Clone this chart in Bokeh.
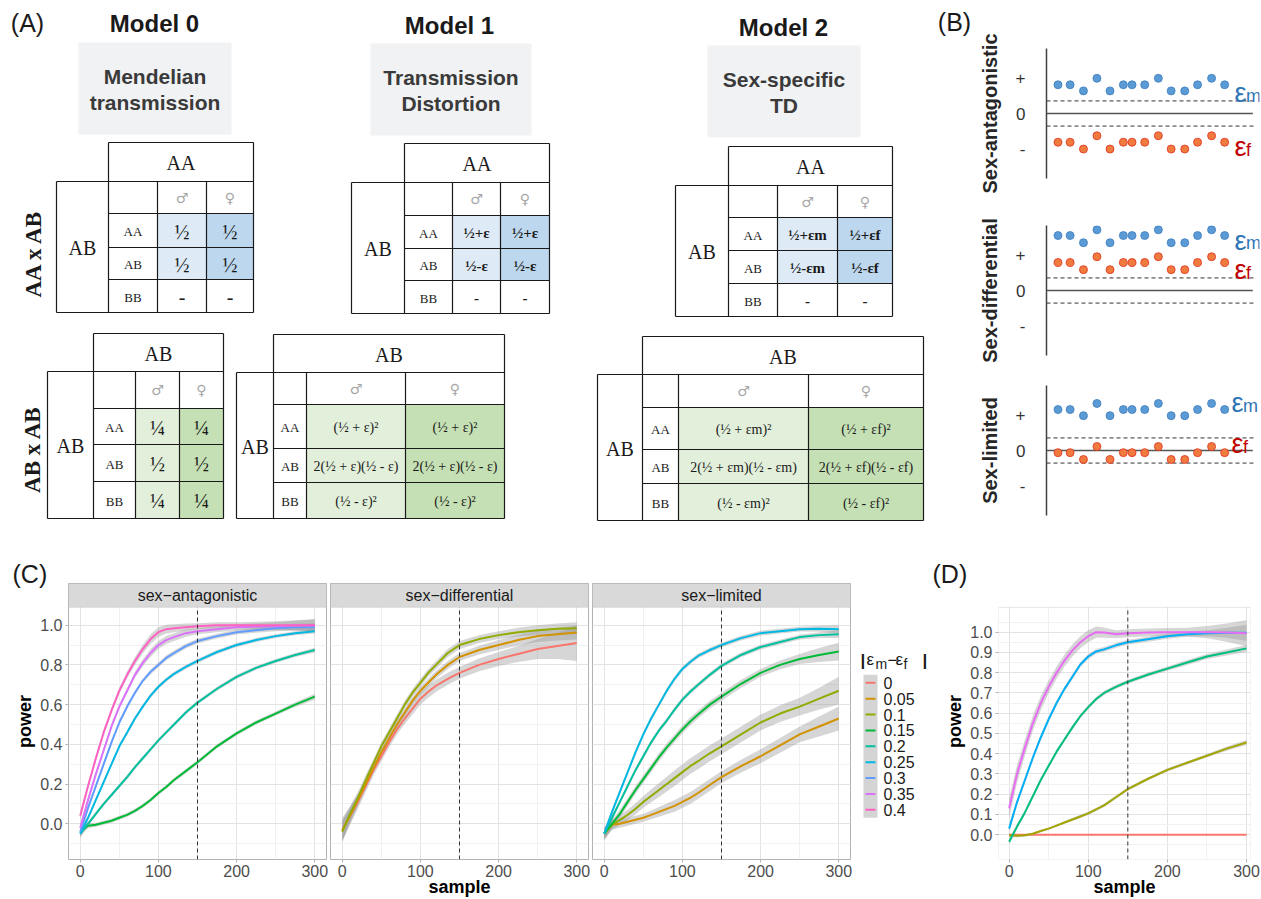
import math
from bokeh.plotting import figure
from bokeh.models import Range1d, FixedTicker, PrintfTickFormatter, BoxAnnotation, Label, Title
from bokeh.layouts import row, column
from bokeh.embed import file_html
from bokeh.resources import INLINE
from bokeh.core.properties import value

SANS = "Liberation Sans"
SERIF = "Liberation Serif"

# ------------------------------------------------------------------ data (C, D)
sample = [0, 10, 20, 30, 40, 50, 60, 70, 80, 90, 100, 110, 120, 135, 150, 175, 200, 225, 250, 275, 300]
threshold = 150
diff_levels = ["0", "0.05", "0.1", "0.15", "0.2", "0.25", "0.3", "0.35", "0.4"]
level_colors = ["#F8766D", "#D39200", "#93AA00", "#00BA38", "#00C19F",
                "#00B9E3", "#619CFF", "#DB72FB", "#FF61C3"]
facet_titles = ["sex\u2212antagonistic", "sex\u2212differential", "sex\u2212limited"]

antag_levels = ["0.15", "0.2", "0.25", "0.3", "0.35", "0.4"]
antag_power = [
    [-0.04, -0.01, -0.005, 0.005, 0.015, 0.03, 0.045, 0.065, 0.09, 0.12, 0.155, 0.185, 0.22, 0.265, 0.31, 0.39, 0.455, 0.51, 0.555, 0.6, 0.64],
    [-0.05, 0.0, 0.05, 0.1, 0.145, 0.19, 0.235, 0.285, 0.33, 0.375, 0.42, 0.46, 0.5, 0.56, 0.61, 0.68, 0.74, 0.785, 0.82, 0.85, 0.875],
    [-0.05, 0.03, 0.12, 0.21, 0.3, 0.39, 0.46, 0.53, 0.59, 0.645, 0.69, 0.725, 0.755, 0.79, 0.82, 0.865, 0.9, 0.925, 0.945, 0.96, 0.97],
    [-0.04, 0.08, 0.19, 0.3, 0.41, 0.51, 0.59, 0.66, 0.72, 0.765, 0.8, 0.835, 0.86, 0.895, 0.92, 0.945, 0.965, 0.975, 0.985, 0.99, 0.99],
    [-0.02, 0.12, 0.25, 0.37, 0.49, 0.59, 0.67, 0.75, 0.81, 0.86, 0.9, 0.925, 0.94, 0.96, 0.97, 0.98, 0.99, 0.993, 0.995, 0.998, 1.0],
    [0.04, 0.19, 0.33, 0.46, 0.57, 0.67, 0.75, 0.82, 0.88, 0.93, 0.965, 0.98, 0.985, 0.99, 0.995, 1.0, 1.0, 1.0, 1.0, 1.0, 1.0],
]
antag_se = [
    [0.02, 0.012, 0.01, 0.01, 0.01, 0.01, 0.01, 0.01, 0.01, 0.01, 0.01, 0.01, 0.01, 0.01, 0.01, 0.01, 0.01, 0.01, 0.01, 0.012, 0.015],
    [0.02, 0.012, 0.01, 0.01, 0.01, 0.01, 0.01, 0.01, 0.01, 0.01, 0.01, 0.01, 0.01, 0.01, 0.01, 0.01, 0.01, 0.01, 0.01, 0.01, 0.012],
    [0.02, 0.012, 0.01, 0.01, 0.01, 0.01, 0.01, 0.01, 0.01, 0.01, 0.01, 0.01, 0.01, 0.01, 0.01, 0.01, 0.01, 0.01, 0.01, 0.01, 0.012],
    [0.02, 0.015, 0.012, 0.012, 0.01, 0.01, 0.01, 0.01, 0.01, 0.012, 0.012, 0.012, 0.012, 0.012, 0.012, 0.012, 0.012, 0.013, 0.015, 0.017, 0.02],
    [0.02, 0.015, 0.012, 0.012, 0.012, 0.012, 0.013, 0.015, 0.017, 0.02, 0.02, 0.02, 0.02, 0.018, 0.015, 0.015, 0.015, 0.017, 0.02, 0.025, 0.03],
    [0.02, 0.015, 0.015, 0.015, 0.015, 0.015, 0.017, 0.02, 0.022, 0.025, 0.025, 0.022, 0.02, 0.018, 0.015, 0.015, 0.015, 0.017, 0.02, 0.025, 0.03],
]

sd_levels = ["0", "0.05", "0.1"]
sd_power = [
    [-0.03, 0.04, 0.11, 0.19, 0.27, 0.34, 0.41, 0.475, 0.53, 0.58, 0.63, 0.665, 0.695, 0.73, 0.76, 0.8, 0.83, 0.855, 0.88, 0.895, 0.91],
    [-0.035, 0.04, 0.12, 0.2, 0.28, 0.36, 0.43, 0.5, 0.56, 0.62, 0.67, 0.71, 0.75, 0.8, 0.84, 0.875, 0.9, 0.925, 0.945, 0.955, 0.963],
    [-0.04, 0.05, 0.13, 0.22, 0.305, 0.39, 0.46, 0.53, 0.6, 0.66, 0.71, 0.76, 0.8, 0.86, 0.9, 0.93, 0.95, 0.965, 0.975, 0.982, 0.985],
]
sd_se = [
    [0.06, 0.045, 0.035, 0.03, 0.027, 0.025, 0.025, 0.025, 0.027, 0.03, 0.03, 0.03, 0.03, 0.03, 0.03, 0.032, 0.035, 0.04, 0.05, 0.065, 0.09],
    [0.05, 0.04, 0.03, 0.025, 0.02, 0.02, 0.02, 0.02, 0.02, 0.02, 0.02, 0.02, 0.02, 0.02, 0.02, 0.022, 0.025, 0.027, 0.03, 0.032, 0.035],
    [0.05, 0.04, 0.03, 0.025, 0.02, 0.02, 0.02, 0.02, 0.02, 0.02, 0.02, 0.02, 0.02, 0.02, 0.02, 0.02, 0.02, 0.022, 0.025, 0.027, 0.03],
]

lim_levels = ["0.05", "0.1", "0.15", "0.2", "0.25"]
lim_power = [
    [-0.05, -0.005, 0.0, 0.01, 0.02, 0.03, 0.045, 0.06, 0.075, 0.09, 0.11, 0.13, 0.155, 0.195, 0.235, 0.29, 0.34, 0.395, 0.45, 0.49, 0.53],
    [-0.05, -0.005, 0.02, 0.045, 0.075, 0.11, 0.14, 0.17, 0.2, 0.23, 0.26, 0.29, 0.315, 0.355, 0.39, 0.45, 0.51, 0.555, 0.59, 0.63, 0.67],
    [-0.05, 0.0, 0.05, 0.11, 0.17, 0.225, 0.28, 0.335, 0.385, 0.43, 0.475, 0.515, 0.55, 0.6, 0.64, 0.705, 0.76, 0.8, 0.83, 0.85, 0.867],
    [-0.05, 0.03, 0.11, 0.19, 0.27, 0.34, 0.41, 0.47, 0.52, 0.575, 0.625, 0.665, 0.7, 0.75, 0.795, 0.85, 0.89, 0.915, 0.94, 0.95, 0.955],
    [-0.05, 0.06, 0.16, 0.26, 0.36, 0.45, 0.53, 0.6, 0.67, 0.73, 0.78, 0.815, 0.845, 0.875, 0.9, 0.935, 0.96, 0.97, 0.98, 0.982, 0.98],
]
lim_se = [
    [0.03, 0.025, 0.02, 0.02, 0.02, 0.02, 0.022, 0.025, 0.027, 0.03, 0.03, 0.03, 0.03, 0.03, 0.03, 0.032, 0.035, 0.037, 0.04, 0.05, 0.06],
    [0.03, 0.025, 0.025, 0.025, 0.028, 0.03, 0.032, 0.035, 0.037, 0.04, 0.04, 0.04, 0.04, 0.04, 0.04, 0.04, 0.04, 0.042, 0.045, 0.055, 0.07],
    [0.03, 0.02, 0.02, 0.02, 0.02, 0.02, 0.02, 0.02, 0.02, 0.02, 0.02, 0.02, 0.02, 0.02, 0.02, 0.02, 0.02, 0.022, 0.025, 0.035, 0.045],
    [0.02, 0.015, 0.012, 0.012, 0.012, 0.012, 0.012, 0.012, 0.012, 0.012, 0.012, 0.012, 0.012, 0.012, 0.012, 0.012, 0.012, 0.012, 0.012, 0.015, 0.02],
    [0.02, 0.015, 0.012, 0.012, 0.012, 0.012, 0.012, 0.012, 0.012, 0.012, 0.012, 0.012, 0.012, 0.012, 0.012, 0.012, 0.012, 0.012, 0.012, 0.015, 0.02],
]

d_colors = ["#F8766D", "#A3A500", "#00BF7D", "#00B0F6", "#E76BF3"]
d_power = [
    [0, 0, 0, 0, 0, 0, 0, 0, 0, 0, 0, 0, 0, 0, 0, 0, 0, 0, 0, 0, 0],
    [-0.003, -0.005, -0.003, 0.005, 0.018, 0.03, 0.045, 0.06, 0.075, 0.09, 0.105, 0.125, 0.145, 0.185, 0.225, 0.275, 0.32, 0.355, 0.39, 0.425, 0.455],
    [-0.035, 0.04, 0.11, 0.19, 0.27, 0.34, 0.41, 0.47, 0.53, 0.585, 0.63, 0.67, 0.7, 0.73, 0.755, 0.79, 0.82, 0.85, 0.88, 0.9, 0.92],
    [0.03, 0.16, 0.27, 0.38, 0.48, 0.57, 0.65, 0.72, 0.78, 0.84, 0.88, 0.905, 0.915, 0.935, 0.95, 0.965, 0.98, 0.99, 0.995, 0.997, 0.997],
    [0.13, 0.3, 0.43, 0.55, 0.65, 0.73, 0.8, 0.86, 0.91, 0.95, 0.98, 1.0, 0.998, 0.99, 0.995, 0.998, 1.0, 1.0, 1.0, 0.998, 0.995],
]
d_se = [
    [0, 0, 0, 0, 0, 0, 0, 0, 0, 0, 0, 0, 0, 0, 0, 0, 0, 0, 0, 0, 0],
    [0.01, 0.008, 0.007, 0.006, 0.006, 0.006, 0.006, 0.006, 0.007, 0.008, 0.008, 0.008, 0.008, 0.008, 0.008, 0.008, 0.008, 0.008, 0.008, 0.01, 0.012],
    [0.015, 0.012, 0.01, 0.01, 0.01, 0.01, 0.01, 0.01, 0.01, 0.01, 0.01, 0.01, 0.01, 0.01, 0.01, 0.01, 0.01, 0.012, 0.012, 0.015, 0.018],
    [0.02, 0.017, 0.015, 0.013, 0.012, 0.012, 0.012, 0.012, 0.012, 0.012, 0.012, 0.012, 0.012, 0.012, 0.012, 0.012, 0.012, 0.013, 0.015, 0.025, 0.04],
    [0.05, 0.045, 0.04, 0.037, 0.035, 0.032, 0.03, 0.03, 0.03, 0.03, 0.03, 0.028, 0.025, 0.02, 0.02, 0.02, 0.02, 0.022, 0.03, 0.045, 0.065],
]

# ------------------------------------------------------------------ data (B)
b_modes = ["Sex-antagonistic", "Sex-differential", "Sex-limited"]
b_x = [1, 1.91, 2.91, 3.92, 4.90, 5.90, 6.55, 7.50, 8.52, 9.48, 10.50, 11.46, 12.51, 13.49]
b_male = [
    [0.80, 0.80, 0.63, 0.98, 0.63, 0.80, 0.80, 0.80, 0.98, 0.63, 0.63, 0.80, 0.98, 0.80],
    [1.53, 1.53, 1.33, 1.69, 1.33, 1.53, 1.53, 1.53, 1.69, 1.33, 1.33, 1.53, 1.69, 1.53],
    [1.14, 1.14, 0.97, 1.31, 0.97, 1.14, 1.14, 1.14, 1.31, 0.97, 0.97, 1.14, 1.31, 1.14],
]
b_female = [
    [-0.80, -0.80, -0.99, -0.62, -0.99, -0.80, -0.80, -0.80, -0.62, -0.99, -0.99, -0.80, -0.62, -0.80],
    [0.78, 0.78, 0.58, 0.94, 0.58, 0.78, 0.78, 0.78, 0.94, 0.58, 0.58, 0.78, 0.94, 0.78],
    [-0.06, -0.06, -0.25, 0.11, -0.25, -0.06, -0.06, -0.06, 0.11, -0.25, -0.25, -0.06, 0.11, -0.06],
]
b_tick_labels = {1: "+", 0: "0", -1: "-"}
b_band = 0.35
# epsilon label anchors (x, baseline) for male / female in each sub-panel
b_lab_m = [(14.22, 0.58), (14.22, 1.39), (14.0, 1.31)]
b_lab_f = [(14.22, -0.94), (14.22, 0.56), (14.0, 0.19)]

# ------------------------------------------------------------------ content (A)
model_titles = ["Model 0", "Model 1", "Model 2"]
model_names = [["Mendelian", "transmission"], ["Transmission", "Distortion"], ["Sex-specific", "TD"]]
cross_labels = ["AA x AB", "AB x AB"]
sexes = ["\u2642", "\u2640"]
genotypes = ["AA", "AB", "BB"]
top_cells = [
    [["\u00bd", "\u00bd"], ["\u00bd", "\u00bd"], ["-", "-"]],
    [["\u00bd+\u03b5", "\u00bd+\u03b5"], ["\u00bd-\u03b5", "\u00bd-\u03b5"], ["-", "-"]],
    [["\u00bd+\u03b5m", "\u00bd+\u03b5f"], ["\u00bd-\u03b5m", "\u00bd-\u03b5f"], ["-", "-"]],
]
bot_cells = [
    [["\u00bc", "\u00bc"], ["\u00bd", "\u00bd"], ["\u00bc", "\u00bc"]],
    [["(\u00bd + \u03b5)\u00b2", "(\u00bd + \u03b5)\u00b2"],
     ["2(\u00bd + \u03b5)(\u00bd - \u03b5)", "2(\u00bd + \u03b5)(\u00bd - \u03b5)"],
     ["(\u00bd - \u03b5)\u00b2", "(\u00bd - \u03b5)\u00b2"]],
    [["(\u00bd + \u03b5m)\u00b2", "(\u00bd + \u03b5f)\u00b2"],
     ["2(\u00bd + \u03b5m)(\u00bd - \u03b5m)", "2(\u00bd + \u03b5f)(\u00bd - \u03b5f)"],
     ["(\u00bd - \u03b5m)\u00b2", "(\u00bd - \u03b5f)\u00b2"]],
]

# ------------------------------------------------------------------ panel A (pixel canvas)
pA = figure(width=975, height=530, x_range=Range1d(0, 975), y_range=Range1d(530, 0),
            x_axis_location=None, y_axis_location=None, title=None, min_border=0,
            output_backend="svg", toolbar_location=None)
pA.grid.visible = False
pA.outline_line_color = None

pA.text(x=[27, 954], y=[22, 21], text=["(A)", "(B)"], text_font=value(SANS), text_font_size="25px",
        text_align="center", text_baseline="middle", text_color="#1a1a1a")

title_pos = [(154, 23), (449, 25), (783, 27)]
box_pos = [(78, 231, 42, 134), (370, 531, 43, 135), (707, 860, 45, 137)]
for k in range(3):
    l, r, t, b = box_pos[k]
    pA.quad(left=l, right=r, top=t, bottom=b, fill_color="#f1f2f4", line_color=None)
    pA.text(x=[title_pos[k][0]], y=[title_pos[k][1]], text=[model_titles[k]], text_font=value(SANS),
            text_font_size="24px", text_font_style="bold", text_align="center",
            text_baseline="middle", text_color="#1a1a1a")
    cx = (l + r) / 2
    pA.text(x=[cx, cx], y=[t + 34, t + 60], text=model_names[k], text_font=value(SANS),
            text_font_size="21px", text_font_style="bold", text_align="center",
            text_baseline="middle", text_color="#3a3a3a")

pA.text(x=[33, 32], y=[253, 449], text=cross_labels, angle=math.pi / 2, text_font=value(SERIF),
        text_font_size="23px", text_font_style="bold", text_align="center",
        text_baseline="middle", text_color="#1a1a1a")

table_geom = [
    ([56, 108, 157, 206, 253], [142, 181, 213, 247, 279, 312]),
    ([351, 404, 452, 500, 549], [143, 182, 215, 248, 280, 313]),
    ([675, 728, 777, 837, 892], [146, 185, 217, 250, 283, 316]),
    ([47, 93, 135, 179, 223], [333, 371, 408, 444, 481, 518]),
    ([236, 273, 306, 405, 504], [334, 372, 404, 448, 482, 518]),
    ([597, 642, 678, 808, 923], [336, 374, 407, 449, 483, 520]),
]
blue_fill = ["#deebf7", "#bdd7ee"]
green_fill = ["#e2efda", "#c5e0b4"]


def draw_table(cols, rows, header, cells, fills, nfill, csize, cstyle):
    xa, xb, xc, xd, xe = cols
    ya, yb, yc, yd, ye, yf = rows
    r1 = rows[2 + nfill]
    pA.quad(left=[xc, xd], right=[xd, xe], top=[yc, yc], bottom=[r1, r1],
            fill_color=fills, line_color=None)
    x0 = [xb, xb, xe, xa, xa, xa, xc, xd, xb, xb, xb]
    y0 = [ya, ya, ya, yb, yb, yf, yb, yb, yc, yd, ye]
    x1 = [xe, xb, xe, xe, xa, xe, xc, xd, xe, xe, xe]
    y1 = [ya, yf, yf, yb, yf, yf, yf, yf, yc, yd, ye]
    pA.segment(x0=x0, y0=y0, x1=x1, y1=y1, line_color="#1a1a1a", line_width=1.2)
    pA.text(x=[(xb + xe) / 2], y=[(ya + yb) / 2 + 1], text=[header], text_font=value(SERIF),
            text_font_size="20px", text_align="center", text_baseline="middle", text_color="#1a1a1a")
    pA.text(x=[(xa + xb) / 2], y=[(yb + yf) / 2 + 1], text=["AB"], text_font=value(SERIF),
            text_font_size="20px", text_align="center", text_baseline="middle", text_color="#1a1a1a")
    pA.text(x=[(xc + xd) / 2, (xd + xe) / 2], y=[(yb + yc) / 2] * 2, text=sexes,
            text_font=value("DejaVu Sans"), text_font_size="14px", text_align="center",
            text_baseline="middle", text_color="#a6a6a6")
    mids = [(yc + yd) / 2, (yd + ye) / 2, (ye + yf) / 2]
    pA.text(x=[(xb + xc) / 2] * 3, y=[m + 1 for m in mids], text=genotypes, text_font=value(SERIF),
            text_font_size="13px", text_align="center", text_baseline="middle", text_color="#1a1a1a")
    cxs, cys, ctx = [], [], []
    for i in range(3):
        for j in range(2):
            cxs.append([(xc + xd) / 2, (xd + xe) / 2][j])
            cys.append(mids[i] + 1)
            ctx.append(cells[i][j])
    pA.text(x=cxs, y=cys, text=ctx, text_font=value(SERIF), text_font_size=csize,
            text_font_style=cstyle, text_align="center", text_baseline="middle", text_color="#1a1a1a")


draw_table(*table_geom[0], "AA", top_cells[0], blue_fill, 2, "20px", "normal")
draw_table(*table_geom[1], "AA", top_cells[1], blue_fill, 2, "15px", "bold")
draw_table(*table_geom[2], "AA", top_cells[2], blue_fill, 2, "15px", "bold")
draw_table(*table_geom[3], "AB", bot_cells[0], green_fill, 3, "20px", "normal")
draw_table(*table_geom[4], "AB", bot_cells[1], green_fill, 3, "14px", "normal")
draw_table(*table_geom[5], "AB", bot_cells[2], green_fill, 3, "14px", "normal")

# ------------------------------------------------------------------ panel B
def make_b(i, height, top, bottom):
    p = figure(width=286, height=height, x_range=Range1d(0.14, 16.1), y_range=Range1d(-1.81, 1.81),
               min_border_left=61, min_border_right=2, min_border_top=top, min_border_bottom=bottom,
               x_axis_location=None, y_axis_location="left", title=None,
               output_backend="svg", toolbar_location=None)
    p.grid.visible = False
    p.outline_line_color = None
    ax = p.yaxis[0]
    ax.ticker = FixedTicker(ticks=[-1, 0, 1])
    ax.major_label_overrides = b_tick_labels
    ax.major_tick_line_color = None
    ax.minor_tick_line_color = None
    ax.axis_line_color = "#404040"
    ax.axis_line_width = 1.5
    ax.major_label_standoff = 15
    ax.major_label_text_font = SANS
    ax.major_label_text_font_size = "17px"
    ax.major_label_text_color = "#333333"
    ax.axis_label = b_modes[i]
    ax.axis_label_text_font = SANS
    ax.axis_label_text_font_size = "20px"
    ax.axis_label_text_font_style = "bold"
    ax.axis_label_text_color = "#262626"
    ax.axis_label_standoff = 12
    p.segment(x0=[0.14, 0.14, 0.14], x1=[15.6, 15.7, 15.7], y0=[0, b_band, -b_band],
              y1=[0, b_band, -b_band], line_color=["#555555", "#333333", "#333333"],
              line_width=[1.5, 1, 1], line_dash=["solid", "4 3", "4 3"])
    p.scatter(b_x, b_male[i], size=8, fill_color="#5b9bd5", line_color="#3d7cbf", line_width=0.8)
    p.scatter(b_x, b_female[i], size=8, fill_color="#f07b3f", line_color="#e0301e", line_width=0.8)
    for (lx, ly), col, sub in ((b_lab_m[i], "#2e75b6", "m"), (b_lab_f[i], "#c00000", "f")):
        p.text(x=[lx], y=[ly], text=["\u03b5"], text_font=value(SANS), text_font_size="27px",
               text_color=col, text_baseline="alphabetic", text_align="left")
        p.text(x=[lx + 0.86], y=[ly - 0.08], text=[sub], text_font=value(SANS), text_font_size="18px",
               text_color=col, text_baseline="alphabetic", text_align="left")
    return p


pB1 = make_b(0, 200, 48, 22)
pB2 = make_b(1, 170, 25, 15)
pB3 = make_b(2, 160, 15, 15)

# ------------------------------------------------------------------ panels C / D
color_of = dict(zip(diff_levels, level_colors))
GRID_MAJ = "#e3e3e3"
GRID_MIN = "#f1f1f1"
BORDER = "#b3b3b3"
TOP_B, BOT_B = 53, 38


def style_common(p, yticks, yminor, has_y):
    p.outline_line_color = BORDER
    xa = p.xaxis[0]
    xa.ticker = FixedTicker(ticks=[0, 100, 200, 300], minor_ticks=[50, 150, 250])
    xa.axis_line_color = None
    xa.major_tick_line_color = BORDER
    xa.major_tick_out = 3
    xa.major_tick_in = 0
    xa.minor_tick_line_color = None
    xa.major_label_text_font = SANS
    xa.major_label_text_font_size = "16px"
    xa.major_label_text_color = "#4d4d4d"
    xa.major_label_standoff = 1
    xa.axis_label_text_font = SANS
    xa.axis_label_text_font_size = "18px"
    xa.axis_label_text_font_style = "bold"
    xa.axis_label_text_color = "#000000"
    xa.axis_label_standoff = -3
    p.xgrid.grid_line_color = GRID_MAJ
    p.xgrid.minor_grid_line_color = GRID_MIN
    yt = FixedTicker(ticks=yticks, minor_ticks=yminor)
    p.ygrid.ticker = yt
    p.ygrid.grid_line_color = GRID_MAJ
    p.ygrid.minor_grid_line_color = GRID_MIN
    if has_y:
        ya = p.yaxis[0]
        ya.ticker = yt
        ya.formatter = PrintfTickFormatter(format="%.1f")
        ya.axis_line_color = None
        ya.major_tick_line_color = BORDER
        ya.major_tick_out = 3
        ya.major_tick_in = 0
        ya.minor_tick_line_color = None
        ya.major_label_text_font = SANS
        ya.major_label_text_font_size = "16px"
        ya.major_label_text_color = "#4d4d4d"
        ya.major_label_standoff = 2
        ya.axis_label = "power"
        ya.axis_label_text_font = SANS
        ya.axis_label_text_font_size = "18px"
        ya.axis_label_text_font_style = "bold"
        ya.axis_label_text_color = "#000000"
        ya.axis_label_standoff = 2


def draw_series(p, colors, powers, ses):
    for c, yv, se in zip(colors, powers, ses):
        p.varea(x=sample, y1=[a - s for a, s in zip(yv, se)], y2=[a + s for a, s in zip(yv, se)],
                fill_color="#999999", fill_alpha=0.4)
    for c, yv in zip(colors, powers):
        p.line(sample, yv, line_color=c, line_width=2)


def panel_title(text, offset, standoff):
    return Title(text=text, align="left", offset=offset, standoff=standoff, text_font=SANS,
                 text_font_size="25px", text_font_style="normal", text_color="#1a1a1a")


C_YT = [0, 0.2, 0.4, 0.6, 0.8, 1.0]
C_YM = [-0.1, 0.1, 0.3, 0.5, 0.7, 0.9]
STRIP_BOTTOM = 1.09
C_YMIN, C_YMAX = -0.18, 1.21


def facet(width, left, right, k, levels, powers, ses, has_y, xlabel, title=None):
    p = figure(width=width, height=369, x_range=Range1d(-15, 315), y_range=Range1d(C_YMIN, C_YMAX),
               min_border_left=left, min_border_right=right, min_border_top=TOP_B, min_border_bottom=BOT_B,
               y_axis_location="left" if has_y else None, title=title,
               output_backend="svg", toolbar_location=None)
    style_common(p, C_YT, C_YM, has_y)
    if xlabel:
        p.xaxis[0].axis_label = xlabel
    draw_series(p, [color_of[l] for l in levels], powers, ses)
    p.segment(x0=[threshold], x1=[threshold], y0=[C_YMIN], y1=[STRIP_BOTTOM],
              line_color="#333333", line_width=1, line_dash="4 3")
    p.add_layout(BoxAnnotation(bottom=STRIP_BOTTOM, fill_color="#d9d9d9", fill_alpha=1,
                               line_color="#a6a6a6", line_width=1))
    p.add_layout(Label(x=150, y=(STRIP_BOTTOM + C_YMAX) / 2, text=facet_titles[k], text_align="center",
                       text_baseline="middle", text_font=SANS, text_font_size="16px",
                       text_color="#1a1a1a"))
    return p


pC1 = facet(328, 68, 2, 0, antag_levels, antag_power, antag_se, True, None,
            title=panel_title("(C)", -56, -8))
pC2 = facet(262, 2, 2, 1, sd_levels, sd_power, sd_se, False, "sample")
pC3 = facet(262, 2, 2, 2, lim_levels, lim_power, lim_se, False, None)

# legend (drawn on a pixel canvas whose frame spans y = 583..861)
pL = figure(width=78, height=369, x_range=Range1d(852, 930), y_range=Range1d(861, 583),
            x_axis_location=None, y_axis_location=None, title=None,
            min_border_left=0, min_border_right=0, min_border_top=TOP_B, min_border_bottom=BOT_B,
            output_backend="svg", toolbar_location=None)
pL.grid.visible = False
pL.outline_line_color = None
key_top, key_h = 675, 16
key_y = [key_top + key_h * (i + 0.5) for i in range(len(diff_levels))]
pL.quad(left=863, right=877, top=key_top, bottom=key_top + key_h * len(diff_levels),
        fill_color="#d4d4d4", line_color=None)
pL.segment(x0=[865] * len(key_y), x1=[875] * len(key_y), y0=key_y, y1=key_y,
           line_color=level_colors, line_width=2)
pL.text(x=[883] * len(key_y), y=key_y, text=diff_levels, text_font=value(SANS), text_font_size="16px",
        text_align="left", text_baseline="middle", text_color="#1a1a1a")
pL.text(x=[860, 922], y=[661, 661], text=["|", "|"], text_font=value(SANS), text_font_size="17px",
        text_font_style="bold", text_align="left", text_baseline="alphabetic", text_color="#1a1a1a")
pL.text(x=[866, 887, 895], y=[660, 660, 660], text=["\u03b5", "\u2212", "\u03b5"],
        text_font=value(SANS), text_font_size="17px",
        text_align="left", text_baseline="alphabetic", text_color="#1a1a1a")
pL.text(x=[875, 903], y=[664, 664], text=["m", "f"], text_font=value(SANS), text_font_size="14px",
        text_align="left", text_baseline="alphabetic", text_color="#1a1a1a")

# panel D (frame aligned with C; data panel occupies the part below D_TOP)
D_YMIN, D_TOP, D_YMAX = -0.1225, 1.1225, 1.2403
pD = figure(width=331, height=369, x_range=Range1d(-13.4, 305), y_range=Range1d(D_YMIN, D_YMAX),
            min_border_left=68, min_border_right=11, min_border_top=TOP_B, min_border_bottom=BOT_B,
            title=panel_title("(D)", -66, -8), output_backend="svg", toolbar_location=None)
style_common(pD, [0, 0.1, 0.2, 0.3, 0.4, 0.5, 0.6, 0.7, 0.8, 0.9, 1.0],
             [-0.05, 0.05, 0.15, 0.25, 0.35, 0.45, 0.55, 0.65, 0.75, 0.85, 0.95, 1.05], True)
pD.outline_line_color = None
pD.xaxis[0].axis_label = "sample"
draw_series(pD, d_colors, d_power, d_se)
pD.segment(x0=[threshold], x1=[threshold], y0=[D_YMIN], y1=[D_TOP],
           line_color="#333333", line_width=1, line_dash="4 3")
pD.add_layout(BoxAnnotation(bottom=D_TOP, fill_color="white", fill_alpha=1, line_color=None))
pD.add_layout(BoxAnnotation(top=D_TOP, fill_color=None, line_color=BORDER, line_width=1))

layout = column(row(pA, column(pB1, pB2, pB3)), row(pC1, pC2, pC3, pL, pD))

open("out.html", "w").write(file_html(layout, INLINE))
